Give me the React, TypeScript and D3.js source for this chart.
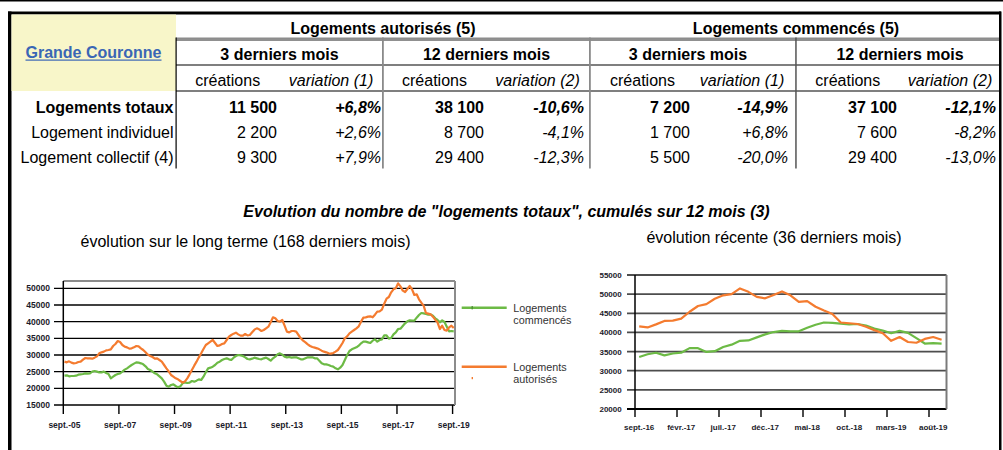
import React from 'react';
import * as d3 from 'd3';

// ---------- Table data ----------
const rowLabels = ['Logements totaux', 'Logement individuel', 'Logement collectif (4)'];
const autor3mCreations = ['11 500', '2 200', '9 300'];
const autor3mVariation = ['+6,8%', '+2,6%', '+7,9%'];
const autor12mCreations = ['38 100', '8 700', '29 400'];
const autor12mVariation = ['-10,6%', '-4,1%', '-12,3%'];
const comm3mCreations = ['7 200', '1 700', '5 500'];
const comm3mVariation = ['-14,9%', '+6,8%', '-20,0%'];
const comm12mCreations = ['37 100', '7 600', '29 400'];
const comm12mVariation = ['-12,1%', '-8,2%', '-13,0%'];

// ---------- Chart data ----------
// Recent 37 months: sept.-16 .. sept.-19
const recentAutorises = [41600, 41300, 42100, 43000, 43100, 43600, 45400, 46900, 47400, 48800, 49700, 50000, 51500, 50600, 49300, 48900, 49800, 50700, 49700, 48000, 48200, 46700, 45700, 44800, 42600, 42400, 42200, 41500, 40600, 39800, 37800, 38800, 37500, 37300, 38300, 38800, 38100];
const recentCommences = [33600, 34300, 34700, 34000, 34500, 34700, 35900, 35900, 34900, 35100, 36200, 36800, 37800, 37900, 38700, 39500, 40100, 40400, 40300, 40300, 41200, 42000, 42600, 42500, 42300, 42100, 42200, 41800, 41000, 40500, 39800, 40400, 39900, 38500, 37100, 37200, 37100];

// Earlier months: sept.-05 .. août-16 (132 months)
const earlyAutorises = [
  28000, 27800, 28100, 27700, 27500, 27600, 27900, 28000, 28600, 29100,
  29000, 29000, 28900, 29200, 29600, 30500, 30800, 31000, 31400, 31500,
  31700, 32700, 33300, 34200, 33900, 33000, 32500, 32300, 31900, 32000,
  32300, 32700, 32600, 32000, 31500, 30800, 30100, 29700, 29400, 28900,
  29000, 28500, 28000, 27000, 26000, 25100, 24000, 23500, 23000, 22700,
  22200, 21700, 22100, 23000, 24200, 25500, 26800, 28000, 29300, 30500,
  31800, 33000, 33500, 34000, 34500, 33600, 32700, 32900, 33300, 33500,
  34500, 35500, 36000, 36400, 36700, 36200, 35800, 35800, 36300, 35900,
  36000, 36800, 37600, 38000, 37700, 37200, 37500, 38000, 38500, 39800,
  41300, 41000, 40200, 40000, 40500, 38800, 37000, 36800, 37200, 37200,
  37000, 36000, 35000, 34300, 33800, 33200, 32700, 32400, 32200, 32000,
  31700, 31300, 31000, 30800, 30500, 30400, 30600, 31000, 31500, 32500,
  33600, 35000, 35600, 36500, 37000, 37500, 38000, 38600, 40000, 41200,
  41300, 41500,
];
const earlyCommences = [
  23800, 23900, 23600, 23700, 23700, 23800, 24100, 24200, 24300, 24500,
  24400, 24500, 25000, 25200, 25000, 24800, 24800, 25000, 24600, 24300,
  23000, 23500, 24000, 24300, 24500, 25000, 25600, 26000, 26500, 27000,
  27400, 27800, 27700, 27500, 27200, 26600, 25800, 25500, 25000, 24500,
  24200, 23600, 23000, 22000, 20800, 20500, 21000, 21200, 20700, 20300,
  20600, 21500, 21800, 21600, 21700, 22200, 22000, 22300, 22700, 22500,
  23500, 24800, 26000, 26200, 26500, 27000, 27700, 28000, 28500, 28800,
  29000, 28700, 28500, 29200, 29700, 30000, 29900, 29700, 29300, 28800,
  28700, 28900, 29200, 29000, 28800, 28700, 29000, 29200, 28800, 28300,
  29000, 29500, 30200, 30500, 30100, 29500, 29300, 29400, 29200, 29300,
  29300, 29000, 28700, 28700, 29000, 29300, 29300, 29300, 29000, 29000,
  28300, 27500, 27200, 27200, 27000, 26700, 26500, 26000, 25700, 26200,
  27000, 28500, 30000, 31200, 31700, 32000, 32300, 32800, 33500, 34000,
  34000, 33800,
];

const longTickLabels = ['sept.-05', 'sept.-07', 'sept.-09', 'sept.-11', 'sept.-13', 'sept.-15', 'sept.-17', 'sept.-19'];
const longTickStep = 24;
const recentTickLabels = ['sept.-16', 'févr.-17', 'juil.-17', 'déc.-17', 'mai-18', 'oct.-18', 'mars-19', 'août-19'];
const recentTickStep = 5;
const longYTicks = [15000, 20000, 25000, 30000, 35000, 40000, 45000, 50000];
const recentYTicks = [20000, 25000, 30000, 35000, 40000, 45000, 50000, 55000];

const seriesNames = ['Logements commencés', 'Logements autorisés'];

const FONT = 'Liberation Sans, Arial, Helvetica, sans-serif';
const ORANGE = '#F47B2F';
const GREEN = '#6CBA45';

export default function App() {
  const longAutorises = [...earlyAutorises, ...recentAutorises];
  const longCommences = [...earlyCommences, ...recentCommences];

  // ---- Left chart scales ----
  const nL = longAutorises.length;
  const xL = d3.scaleLinear().domain([0, nL]).range([63.3, 454.9]);
  const yL = d3.scaleLinear().domain([15000, 50000]).range([405, 288.33]);
  const lineL = d3.line<number>().x((_, i) => xL(i + 0.5)).y((d) => yL(d));
  const lTop = 281;

  // ---- Right chart scales ----
  const nR = recentAutorises.length;
  const xR = d3.scaleLinear().domain([0, nR]).range([635, 945.8]);
  const yR = d3.scaleLinear().domain([20000, 55000]).range([409, 275]);
  const lineR = d3.line<number>().x((_, i) => xR(i + 0.5)).y((d) => yR(d));

  // ---- Table geometry ----
  const rowBaselines = [112.5, 137.5, 162.5];
  const groups = [
    { cre: autor3mCreations, varr: autor3mVariation, creRight: 277, varRight: 381, creC: 227.7, varC: 331, varLabel: 'variation (1)' },
    { cre: autor12mCreations, varr: autor12mVariation, creRight: 484, varRight: 584, creC: 434.5, varC: 537.5, varLabel: 'variation (2)' },
    { cre: comm3mCreations, varr: comm3mVariation, creRight: 690, varRight: 788, creC: 642.5, varC: 742, varLabel: 'variation (1)' },
    { cre: comm12mCreations, varr: comm12mVariation, creRight: 897, varRight: 996, creC: 847.8, varC: 950, varLabel: 'variation (2)' },
  ];
  const periodHeaders = [
    { t: '3 derniers mois', x: 279.5 },
    { t: '12 derniers mois', x: 486.5 },
    { t: '3 derniers mois', x: 688 },
    { t: '12 derniers mois', x: 900 },
  ];

  return (
    <div style={{ position: 'absolute', left: 0, top: 0, width: 1003, height: 450, overflow: 'hidden' }}>
      <svg width={1003} height={450} style={{ display: 'block', background: '#fff' }} fontFamily={FONT}>
        <rect x={0} y={0} width={1003} height={450} fill="#fff" />
        {/* top thin line */}
        <rect x={0} y={0} width={1003} height={1.5} fill="#000" />
        {/* frame */}
        <rect x={8} y={11.5} width={993} height={3} fill="#000" />
        <rect x={8} y={11.5} width={3.5} height={440} fill="#000" />
        <rect x={999} y={11.5} width={2.5} height={440} fill="#000" />

        {/* yellow header cell */}
        <rect x={11.5} y={14.5} width={164.5} height={76.5} fill="#F8F6C9" />
        <text x={93.5} y={57.5} textAnchor="middle" fontSize={16} fontWeight="bold" fill="#3A66B5">Grande Couronne</text>
        <rect x={25.5} y={59.5} width={136} height={1.2} fill="#3A66B5" />

        {/* table lines */}
        <rect x={176} y={37.5} width={823} height={1.5} fill="#8c8c8c" />
        <rect x={176} y={39.5} width={823} height={1} fill="#222" />
        <rect x={176} y={64.5} width={823} height={1} fill="#000" />
        <rect x={176} y={90.5} width={823} height={1} fill="#000" />
        <rect x={175.5} y={37.5} width={1.2} height={131} fill="#000" />
        <rect x={382} y={37.5} width={1.8} height={131} fill="#8a8a8a" />
        <rect x={589} y={37.5} width={1.8} height={131} fill="#8a8a8a" />
        <rect x={795.2} y={37.5} width={1.5} height={131} fill="#555" />

        {/* group headers */}
        <text x={383} y={34} textAnchor="middle" fontSize={16} fontWeight="bold" fill="#000">Logements autorisés (5)</text>
        <text x={796} y={34} textAnchor="middle" fontSize={16} fontWeight="bold" fill="#000">Logements commencés (5)</text>
        {periodHeaders.map((p, i) => (
          <text key={i} x={p.x} y={59.5} textAnchor="middle" fontSize={16} fontWeight="bold" fill="#000">{p.t}</text>
        ))}
        {groups.map((g, i) => (
          <g key={i}>
            <text x={g.creC} y={86} textAnchor="middle" fontSize={16} fill="#000">créations</text>
            <text x={g.varC} y={86} textAnchor="middle" fontSize={16} fontStyle="italic" fill="#000">{g.varLabel}</text>
            {g.cre.map((v, r) => (
              <text key={'c' + r} x={g.creRight} y={rowBaselines[r]} textAnchor="end" fontSize={16} fontWeight={r === 0 ? 'bold' : 'normal'} fill="#000">{v}</text>
            ))}
            {g.varr.map((v, r) => (
              <text key={'v' + r} x={g.varRight} y={rowBaselines[r]} textAnchor="end" fontSize={16} fontStyle="italic" fontWeight={r === 0 ? 'bold' : 'normal'} fill="#000">{v}</text>
            ))}
          </g>
        ))}
        {rowLabels.map((l, r) => (
          <text key={r} x={173.5} y={rowBaselines[r]} textAnchor="end" fontSize={16} fontWeight={r === 0 ? 'bold' : 'normal'} fill="#000">{l}</text>
        ))}

        {/* titles */}
        <text x={506.5} y={217} textAnchor="middle" fontSize={16} fontWeight="bold" fontStyle="italic" fill="#000">Evolution du nombre de "logements totaux", cumulés sur 12 mois (3)</text>
        <text x={245.5} y={247} textAnchor="middle" fontSize={16} fill="#000">évolution sur le long terme (168 derniers mois)</text>
        <text x={774} y={243} textAnchor="middle" fontSize={16} fill="#000">évolution récente (36 derniers mois)</text>

        {/* ===== Left chart ===== */}
        {longYTicks.map((t) => (
          <g key={t}>
            <line x1={54} x2={t === 15000 ? 455 : 455} y1={yL(t)} y2={yL(t)} stroke="#000" strokeWidth={1.4} />
            <text x={50} y={yL(t) + 3} textAnchor="end" fontSize={8.5} fontWeight="bold" fill="#1b1b2a">{t}</text>
          </g>
        ))}
        <line x1={63.3} x2={455} y1={lTop} y2={lTop} stroke="#8c8c8c" strokeWidth={2} />
        <line x1={455} x2={455} y1={lTop} y2={405} stroke="#8c8c8c" strokeWidth={2} />
        <line x1={63.3} x2={63.3} y1={lTop} y2={405} stroke="#000" strokeWidth={1.5} />
        {longTickLabels.map((lab, k) => {
          const i = k * longTickStep;
          return (
            <g key={lab}>
              <line x1={xL(i)} x2={xL(i)} y1={405} y2={414} stroke="#000" strokeWidth={1.4} />
              <text x={xL(i + 0.5)} y={428} textAnchor="middle" fontSize={8.5} fontWeight="bold" fill="#1b1b2a">{lab}</text>
            </g>
          );
        })}
        <path d={lineL(longCommences) || ''} fill="none" stroke={GREEN} strokeWidth={2.2} strokeLinejoin="round" />
        <path d={lineL(longAutorises) || ''} fill="none" stroke={ORANGE} strokeWidth={2.2} strokeLinejoin="round" />

        {/* legend */}
        <line x1={461.7} x2={506.7} y1={307.7} y2={307.7} stroke={GREEN} strokeWidth={2.5} />
        <rect x={471.6} y={306} width={1.2} height={3.4} fill="#4a8a30" />
        <text x={513.3} y={312} fontSize={10.8} fill="#333">Logements</text>
        <text x={513.3} y={323.5} fontSize={10.8} fill="#333">{seriesNames[0].split(' ')[1]}</text>
        <line x1={461.7} x2={506.7} y1={366.7} y2={366.7} stroke={ORANGE} strokeWidth={2.5} />
        <rect x={471.6} y={377} width={1.4} height={2.2} fill={ORANGE} />
        <text x={513.3} y={371} fontSize={10.8} fill="#333">Logements</text>
        <text x={513.3} y={382.5} fontSize={10.8} fill="#333">{seriesNames[1].split(' ')[1]}</text>

        {/* ===== Right chart ===== */}
        {recentYTicks.map((t) => (
          <g key={t}>
            <line x1={627} x2={946.5} y1={yR(t)} y2={yR(t)} stroke={t === 20000 ? '#000' : '#4d4d4d'} strokeWidth={1.8} />
            <text x={621.7} y={yR(t) + 3} textAnchor="end" fontSize={8} fontWeight="bold" fill="#1b1b2a">{t}</text>
          </g>
        ))}
        <line x1={946.5} x2={946.5} y1={275} y2={409} stroke="#7a7a7a" strokeWidth={2} />
        <line x1={635} x2={635} y1={275} y2={409} stroke="#000" strokeWidth={1.5} />
        {recentTickLabels.map((lab, k) => {
          const j = k * recentTickStep;
          return (
            <g key={lab}>
              <line x1={xR(j)} x2={xR(j)} y1={409} y2={417} stroke="#000" strokeWidth={1.4} />
              <text x={xR(j + 0.5)} y={430} textAnchor="middle" fontSize={8} fontWeight="bold" fill="#1b1b2a">{lab}</text>
            </g>
          );
        })}
        <path d={lineR(recentCommences) || ''} fill="none" stroke={GREEN} strokeWidth={2.2} strokeLinejoin="round" />
        <path d={lineR(recentAutorises) || ''} fill="none" stroke={ORANGE} strokeWidth={2.2} strokeLinejoin="round" />
      </svg>
    </div>
  );
}
